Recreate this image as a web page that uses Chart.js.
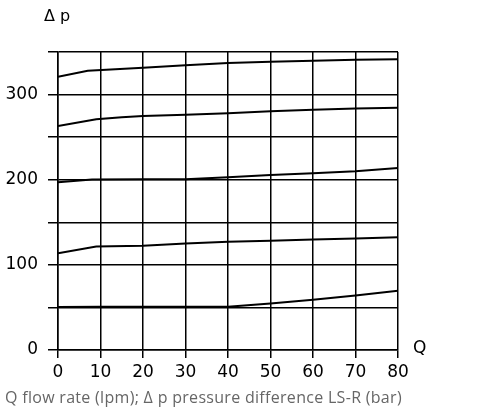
<!DOCTYPE html>
<html>
<head>
<meta charset="utf-8">
<script src="https://cdn.jsdelivr.net/npm/chart.js@4/dist/chart.umd.min.js"></script>
<style>
  html,body{margin:0;padding:0;background:#fff;}
  #wrap{position:relative;width:487px;height:416px;overflow:hidden;}
  #c{position:absolute;left:0;top:0;}
  .lbl{position:absolute;font-family:"DejaVu Sans",sans-serif;color:#000;white-space:nowrap;}
  #cap{position:absolute;left:5px;top:386px;font-family:"Open Sans",sans-serif;font-size:16px;letter-spacing:0.3px;color:#666;white-space:nowrap;}
</style>
</head>
<body>
<div id="wrap">
  <canvas id="c" width="487" height="416"></canvas>
  <div class="lbl" id="dp" style="left:44px;top:6px;font-size:16px;">Δ p</div>
  <div class="lbl" id="q" style="left:413px;top:337px;font-size:17px;">Q</div>
  <div id="cap">Q flow rate (lpm); Δ p pressure difference LS-R (bar)</div>
</div>
<script>
// Curves (Q in lpm, Δp in bar)
const curve1Q = [0, 7, 20, 30, 40, 50, 60, 70, 80];
const curve1P = [321, 328, 331.5, 334.5, 337, 338.5, 339.8, 340.8, 341.5];
const curve2Q = [0, 9, 15, 20, 30, 40, 50, 60, 70, 80];
const curve2P = [263, 271, 273.5, 274.7, 276.3, 278, 280.5, 282.3, 283.7, 284.5];
const curve3Q = [0, 8, 20, 30, 40, 50, 60, 70, 80];
const curve3P = [197, 200.3, 200.5, 200.5, 202.8, 205.5, 207.5, 210, 213.7];
const curve4Q = [0, 9, 20, 30, 40, 50, 60, 70, 80];
const curve4P = [113.5, 121.5, 122.3, 125, 127, 128.3, 129.7, 131, 132.5];
const curve5Q = [0, 10, 20, 30, 40, 50, 60, 70, 80];
const curve5P = [50.5, 50.8, 50.8, 50.8, 50.8, 54.7, 59, 64, 69.5];

const xTicks = [0, 10, 20, 30, 40, 50, 60, 70, 80];
const yLabelled = [0, 100, 200, 300];

function pts(qs, ps){ return qs.map((q,i)=>({x:q, y:ps[i]})); }
function ds(qs, ps){
  return {data: pts(qs, ps), borderColor:'#000', borderWidth:2, pointRadius:0, tension:0, fill:false};
}

new Chart(document.getElementById('c'), {
  type: 'line',
  data: { datasets: [
    ds(curve1Q, curve1P), ds(curve2Q, curve2P), ds(curve3Q, curve3P),
    ds(curve4Q, curve4P), ds(curve5Q, curve5P)
  ]},
  options: {
    responsive:false, animation:false,
    layout:{padding:{top:52, right:89, left:0, bottom:0}},
    plugins:{legend:{display:false}, tooltip:{enabled:false}},
    scales:{
      x:{
        type:'linear', min:0, max:80,
        afterBuildTicks: a => { a.ticks = xTicks.map(v=>({value:v})); },
        afterFit: a => { a.height = 66; },
        grid:{color:'#000', lineWidth:1.5, tickLength:8, drawTicks:true},
        border:{display:true, color:'#000', width:1.5},
        ticks:{color:'#000', font:{family:'DejaVu Sans', size:17}, padding:4, maxRotation:0}
      },
      y:{
        type:'linear', min:0, max:350,
        ticks:{stepSize:50, color:'#000', font:{family:'DejaVu Sans', size:17}, padding:10,
               callback: v => yLabelled.includes(v) ? String(v) : ''},
        afterFit: a => { a.width = 58; },
        grid:{color:'#000', lineWidth:1.5, tickLength:10},
        border:{display:true, color:'#000', width:1.5}
      }
    }
  }
});
</script>
</body>
</html>
